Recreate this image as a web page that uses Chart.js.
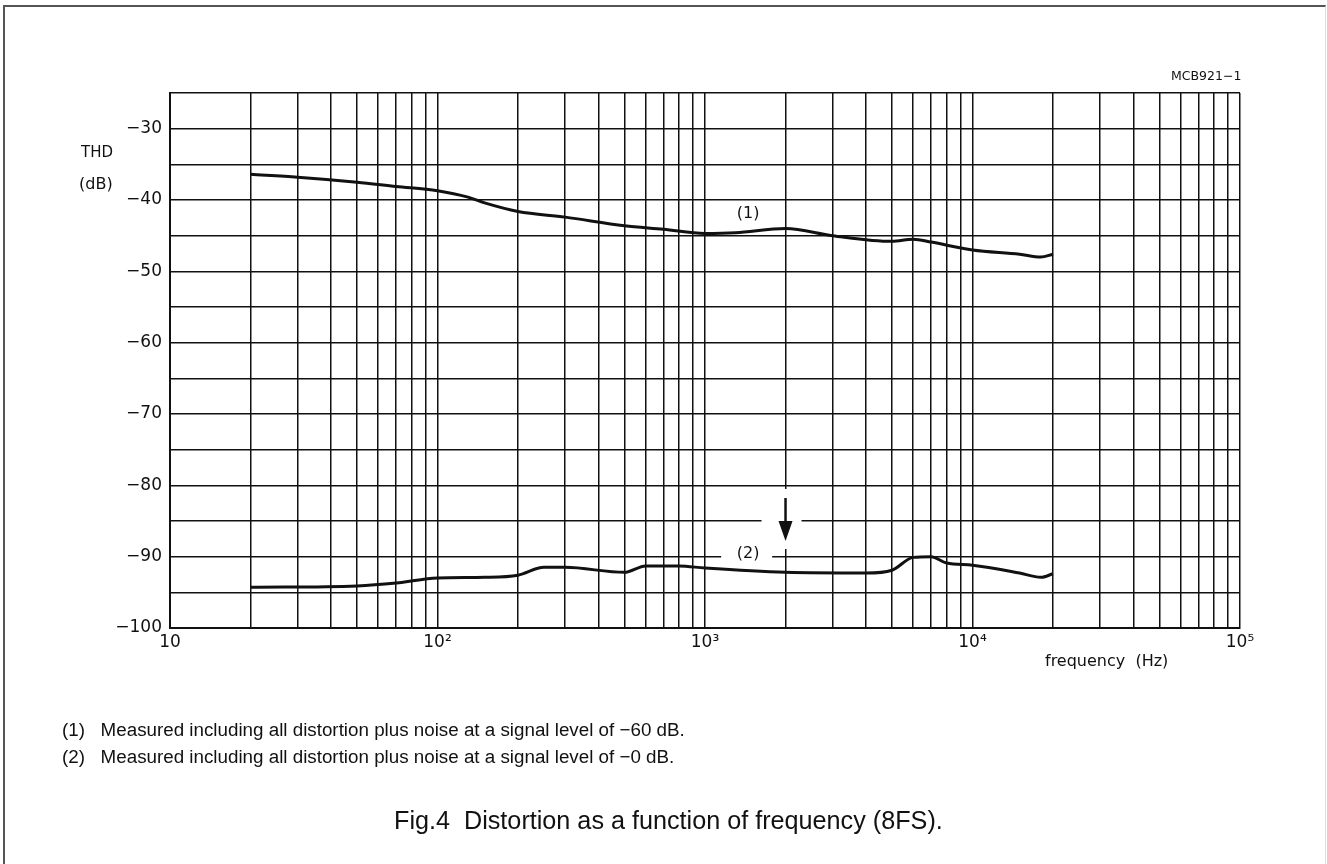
<!DOCTYPE html>
<html>
<head>
<meta charset="utf-8">
<script src="https://cdn.jsdelivr.net/npm/chart.js@4.4.1/dist/chart.umd.min.js"></script>
<style>
body { margin:0; background:#fff; }
#wrap { position:relative; width:1327px; height:864px; overflow:hidden; background:#fff; }
#frame { position:absolute; left:3px; top:5px; width:1320px; height:900px; border-left:2px solid #555; border-top:2px solid #555; border-right:1px solid #ddd; }
canvas { position:absolute; left:0; top:0; }
.t { position:absolute; font-family:"Liberation Sans", Arial, sans-serif; color:#111; white-space:nowrap; }
.d { font-family:"DejaVu Sans", sans-serif; }
</style>
</head>
<body>
<div id="wrap">
<div id="frame"></div>
<canvas id="chart" width="1327" height="864"></canvas>
<div class="t d" style="left:1171px;top:68px;font-size:12.5px;">MCB921&minus;1</div>
<div class="t d" style="left:81px;top:143px;font-size:15px;">THD</div>
<div class="t d" style="left:79px;top:174px;font-size:16px;">(dB)</div>
<div class="t d" style="left:1045px;top:651px;font-size:16px;">frequency&nbsp;&nbsp;(Hz)</div>
<div class="t" style="left:62px;top:719px;font-size:18.8px;">(1)&nbsp;&nbsp;&nbsp;Measured including all distortion plus noise at a signal level of &minus;60 dB.</div>
<div class="t" style="left:62px;top:746px;font-size:18.8px;">(2)&nbsp;&nbsp;&nbsp;Measured including all distortion plus noise at a signal level of &minus;0 dB.</div>
<div class="t" style="left:394px;top:806px;font-size:25.2px;">Fig.4&nbsp;&nbsp;Distortion as a function of frequency (8FS).</div>
</div>
<script>
// frequency (Hz) and THD (dB)
var freq1 = [20, 30, 50, 70, 100, 130, 150, 200, 300, 500, 700, 1000, 1300, 2000, 3000, 5000, 6000, 7000, 10000, 15000, 18000, 20000];
var thd1  = [-36.4, -36.8, -37.5, -38.1, -38.7, -39.6, -40.4, -41.6, -42.4, -43.6, -44.1, -44.7, -44.6, -44.0, -45.0, -45.8, -45.5, -45.9, -47.0, -47.6, -48.0, -47.6];

var freq2 = [20, 50, 70, 100, 150, 200, 250, 300, 500, 600, 800, 1000, 2000, 4000, 5000, 6000, 7000, 8000, 10000, 15000, 18000, 20000];
var thd2  = [-94.3, -94.1, -93.7, -93.0, -92.9, -92.6, -91.5, -91.5, -92.2, -91.3, -91.3, -91.6, -92.2, -92.3, -91.9, -90.1, -90.0, -90.9, -91.2, -92.3, -92.9, -92.4];

var xTicks = [];
var decades = [10, 100, 1000, 10000];
for (var d = 0; d < decades.length; d++) {
        for (var m = 1; m < 10; m++) {
                xTicks.push(decades[d] * m);
        }
}
xTicks.push(100000);

var xLabels = {10: "10", 100: "10\u00b2", 1000: "10\u00b3", 10000: "10\u2074", 100000: "10\u2075"};

var yTicks = [];
for (var v = -100; v <= -25; v += 5) {
        yTicks.push(v);
}

function pts(xs, ys)
{
        var out = [];
        for (var i = 0; i < xs.length; i++) {
                out.push({x: xs[i], y: ys[i]});
        }
        return out;
}

var notes = {
        id: "notes",
        afterDatasetsDraw: function(chart) {
                var c = chart.ctx;
                var xs = chart.scales.x;
                var ys = chart.scales.y;

                c.save();
                c.font = "16px 'DejaVu Sans', sans-serif";
                c.fillStyle = "#111";
                c.textAlign = "center";
                c.textBaseline = "middle";
                c.fillText("(1)", xs.getPixelForValue(1450), ys.getPixelForValue(-42));

                // label (2) sits in a gap of the -90 grid line
                var lx = xs.getPixelForValue(1450);
                var ly = ys.getPixelForValue(-90);
                c.fillStyle = "#fff";
                c.fillRect(lx - 27, ly - 3, 51, 6);
                c.fillStyle = "#111";
                c.fillText("(2)", lx, ly - 3);

                // arrow at 2 kHz
                var ax = xs.getPixelForValue(2000);
                var ay = ys.getPixelForValue(-85);
                c.fillStyle = "#fff";
                c.fillRect(ax - 24, ay - 32, 40, 60);
                c.strokeStyle = "#111";
                c.lineWidth = 2.5;
                c.beginPath();
                c.moveTo(ax, ay - 23);
                c.lineTo(ax, ay + 5);
                c.stroke();
                c.fillStyle = "#111";
                c.beginPath();
                c.moveTo(ax - 7, ay);
                c.lineTo(ax + 7, ay);
                c.lineTo(ax, ay + 20);
                c.closePath();
                c.fill();
                c.restore();
        }
};

var MyChart = new Chart(document.getElementById("chart"), {
        type: "scatter",
        data: {
                datasets: [{
                        label: "(1)",
                        data: pts(freq1, thd1),
                        showLine: true,
                        borderColor: "#111",
                        borderWidth: 3,
                        pointRadius: 0,
                        cubicInterpolationMode: "monotone"
                }, {
                        label: "(2)",
                        data: pts(freq2, thd2),
                        showLine: true,
                        borderColor: "#111",
                        borderWidth: 3,
                        pointRadius: 0,
                        cubicInterpolationMode: "monotone"
                }]
        },
        options: {
                responsive: false,
                animation: false,
                devicePixelRatio: 1,
                layout: { padding: { top: 93, right: 87, left: 0, bottom: 0 } },
                plugins: { legend: { display: false }, tooltip: { enabled: false } },
                scales: {
                        x: {
                                type: "logarithmic",
                                min: 10,
                                max: 100000,
                                afterBuildTicks: function(scale) {
                                        scale.ticks = xTicks.map(function(t) { return {value: t}; });
                                },
                                afterFit: function(scale) { scale.height = 236; },
                                grid: { color: "#111", lineWidth: 1.5, drawTicks: false },
                                border: { color: "#111", width: 2 },
                                ticks: {
                                        autoSkip: false,
                                        maxRotation: 0,
                                        padding: 4,
                                        color: "#111",
                                        font: { family: "'DejaVu Sans', sans-serif", size: 17 },
                                        callback: function(value) { return xLabels[value] || ""; }
                                }
                        },
                        y: {
                                min: -100,
                                max: -25,
                                afterBuildTicks: function(scale) {
                                        scale.ticks = yTicks.map(function(t) { return {value: t}; });
                                },
                                afterFit: function(scale) { scale.width = 170; },
                                grid: { color: "#111", lineWidth: 1.5, drawTicks: false },
                                border: { color: "#111", width: 2 },
                                ticks: {
                                        autoSkip: false,
                                        padding: 8,
                                        color: "#111",
                                        font: { family: "'DejaVu Sans', sans-serif", size: 17 },
                                        callback: function(value) {
                                                return value % 10 === 0 ? "\u2212" + Math.abs(value) : "";
                                        }
                                }
                        }
                }
        },
        plugins: [notes]
});
</script>
</body>
</html>
